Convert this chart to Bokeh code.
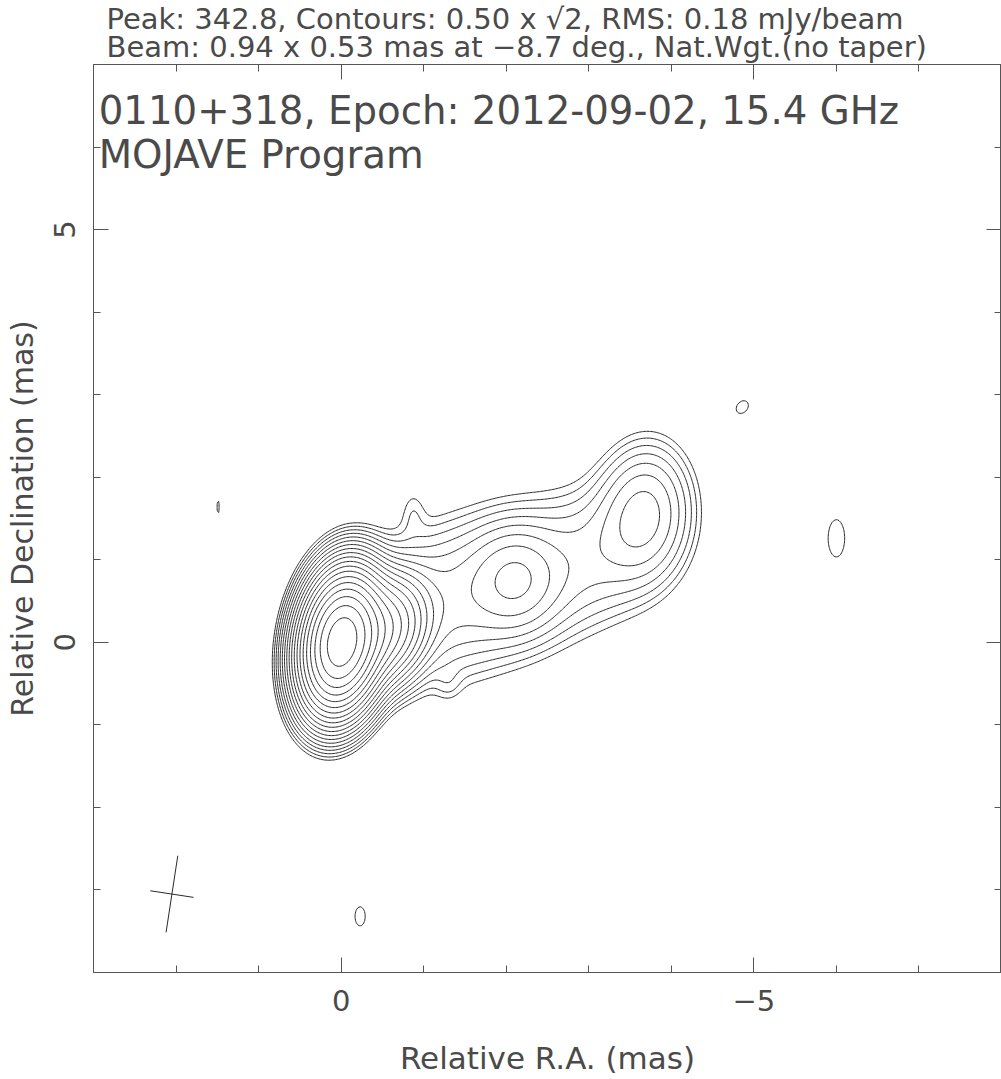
import numpy as np
from bokeh.plotting import figure
from bokeh.models import Range1d, LinearAxis, FixedTicker, Label, Title
from bokeh.embed import file_html
from bokeh.resources import INLINE

# ---- map header values ----
peak_flux = 342.8
rms = 0.18
beam_major = 0.94
beam_minor = 0.53
beam_pa = -8.7
beam_center_ra = 2.05
beam_center_dec = -3.05

# contour levels (mJy/beam): 0.50 x sqrt(2)^n
levels = [0.5, 0.707, 1.0, 1.414, 2.0, 2.828, 4.0, 5.657, 8.0, 11.31,
          16.0, 22.63, 32.0, 45.25, 64.0, 90.51, 128.0, 181.0, 256.0]

# ---- brightness components (mas, mJy/beam, deg) ----
comp_ra   = [0.00, -0.50, -1.10, -2.11, -2.00, -3.10, -3.67, -4.86, -6.00, 1.49, -0.23, -0.87, -1.30]
comp_dec  = [0.00,  0.15,  0.45,  0.76,  0.70,  1.05,  1.57,  2.85,  1.26, 1.64, -3.32,  1.60, -0.50]
comp_peak = [330.0, 40.0,  2.2,   3.9,   1.6,   1.5,   4.1,   0.60,  0.60, 0.60,  0.60,  0.45,  0.35]
comp_maj  = [0.94,  0.80,  1.60,  0.88,  2.00,  1.40,  1.12,  0.33,  0.88, 0.31,  0.45,  0.50,  0.35]
comp_min  = [0.53,  0.60,  1.20,  0.75,  1.30,  1.10,  0.75,  0.25,  0.39, 0.05,  0.24,  0.25,  0.25]
comp_pa   = [-8.7, -20.0, -65.0,  0.0, -65.0, -55.0,  -5.0, -40.0,   0.0,  0.0,   0.0,   0.0,   0.0]

# axis ticks
x_major = [-5, 0]
x_minor = [-8, -7, -6, -5, -4, -3, -2, -1, 0, 1, 2, 3]
y_major = [0, 5]
y_minor = [-4, -3, -2, -1, 0, 1, 2, 3, 4, 5, 6, 7]

# ---- build image on a grid ----
ra = np.linspace(-8, 3, 661)
dec = np.linspace(-4, 7, 661)
RA, DEC = np.meshgrid(ra, dec)
img = np.zeros_like(RA)
k = 4 * np.log(2)
for x0, y0, pk, mj, mn, pa in zip(comp_ra, comp_dec, comp_peak, comp_maj, comp_min, comp_pa):
    t = np.deg2rad(pa)
    dx, dy = RA - x0, DEC - y0
    u = dx * np.sin(t) + dy * np.cos(t)
    v = dx * np.cos(t) - dy * np.sin(t)
    img += pk * np.exp(-k * (u ** 2 / mj ** 2 + v ** 2 / mn ** 2))

FONT = "DejaVu Sans"
TXT = "#4a4a4a"
FRAME = "#555555"
LINE = "#2a2a2a"

p = figure(width=1001, height=1079, x_range=Range1d(3, -8), y_range=Range1d(-4, 7),
           output_backend="svg", toolbar_location=None,
           min_border_left=93, min_border_right=0, min_border_top=64, min_border_bottom=107)
p.grid.visible = False
p.outline_line_color = FRAME
p.outline_line_width = 1

p.contour(x=ra, y=dec, z=img, levels=levels, line_color=LINE, line_width=1)

# beam cross
t = np.deg2rad(beam_pa)
p.segment(x0=[beam_center_ra - beam_major / 2 * np.sin(t), beam_center_ra - beam_minor / 2 * np.cos(t)],
          y0=[beam_center_dec - beam_major / 2 * np.cos(t), beam_center_dec + beam_minor / 2 * np.sin(t)],
          x1=[beam_center_ra + beam_major / 2 * np.sin(t), beam_center_ra + beam_minor / 2 * np.cos(t)],
          y1=[beam_center_dec + beam_major / 2 * np.cos(t), beam_center_dec - beam_minor / 2 * np.sin(t)],
          line_color=LINE, line_width=1)


def style_axis(ax, major, minor, major_len=15, minor_len=7):
    ax.ticker = FixedTicker(ticks=major, minor_ticks=minor)
    ax.major_tick_in = major_len
    ax.major_tick_out = 0
    ax.minor_tick_in = minor_len
    ax.minor_tick_out = 0
    ax.major_tick_line_color = FRAME
    ax.minor_tick_line_color = FRAME
    ax.axis_line_color = FRAME
    ax.major_label_text_font = FONT
    ax.major_label_text_color = TXT
    ax.axis_label_text_font = FONT
    ax.axis_label_text_font_style = "normal"
    ax.axis_label_text_color = TXT


xa = p.xaxis[0]
style_axis(xa, x_major, x_minor)
xa.major_label_overrides = {-5: "\u22125", 0: "0"}
xa.major_label_text_font_size = "29px"
xa.major_label_standoff = 17
xa.axis_label = "Relative R.A. (mas)"
xa.axis_label_text_font_size = "31px"
xa.axis_label_standoff = 26

ya = p.yaxis[0]
style_axis(ya, y_major, y_minor)
ya.major_label_text_font_size = "29px"
ya.major_label_orientation = "parallel"
ya.major_label_standoff = 18
ya.axis_label = "Relative Declination (mas)"
ya.axis_label_text_font_size = "30px"
ya.axis_label_standoff = 12

# ticks on the top and right edges (no labels): minor set, then long ticks at 0 and 5
for side, minor, longs in (("above", x_minor, x_major), ("right", y_minor, y_major)):
    a1 = LinearAxis()
    style_axis(a1, [], minor)
    p.add_layout(a1, side)
    a2 = LinearAxis()
    style_axis(a2, [], longs, minor_len=15)
    p.add_layout(a2, side)

# header lines above the frame
p.add_layout(Title(text="Peak: 342.8, Contours: 0.50 x \u221a2, RMS: 0.18 mJy/beam\n"
                        "Beam: 0.94 x 0.53 mas at \u22128.7 deg., Nat.Wgt.(no taper)",
                   align="left", offset=13, standoff=0, text_font=FONT, text_font_size="29px",
                   text_line_height=0.83, text_font_style="normal", text_color=TXT), "above")

# titles inside the frame
p.add_layout(Label(x=2.937, y=6.447, text="0110+318, Epoch: 2012-09-02, 15.4 GHz",
                   text_font=FONT, text_font_size="38.7px", text_color=TXT,
                   text_baseline="alphabetic", text_align="left"))
p.add_layout(Label(x=2.937, y=5.904, text="MOJAVE Program",
                   text_font=FONT, text_font_size="38.7px", text_color=TXT,
                   text_baseline="alphabetic", text_align="left"))

open("out.html", "w").write(file_html(p, INLINE))
